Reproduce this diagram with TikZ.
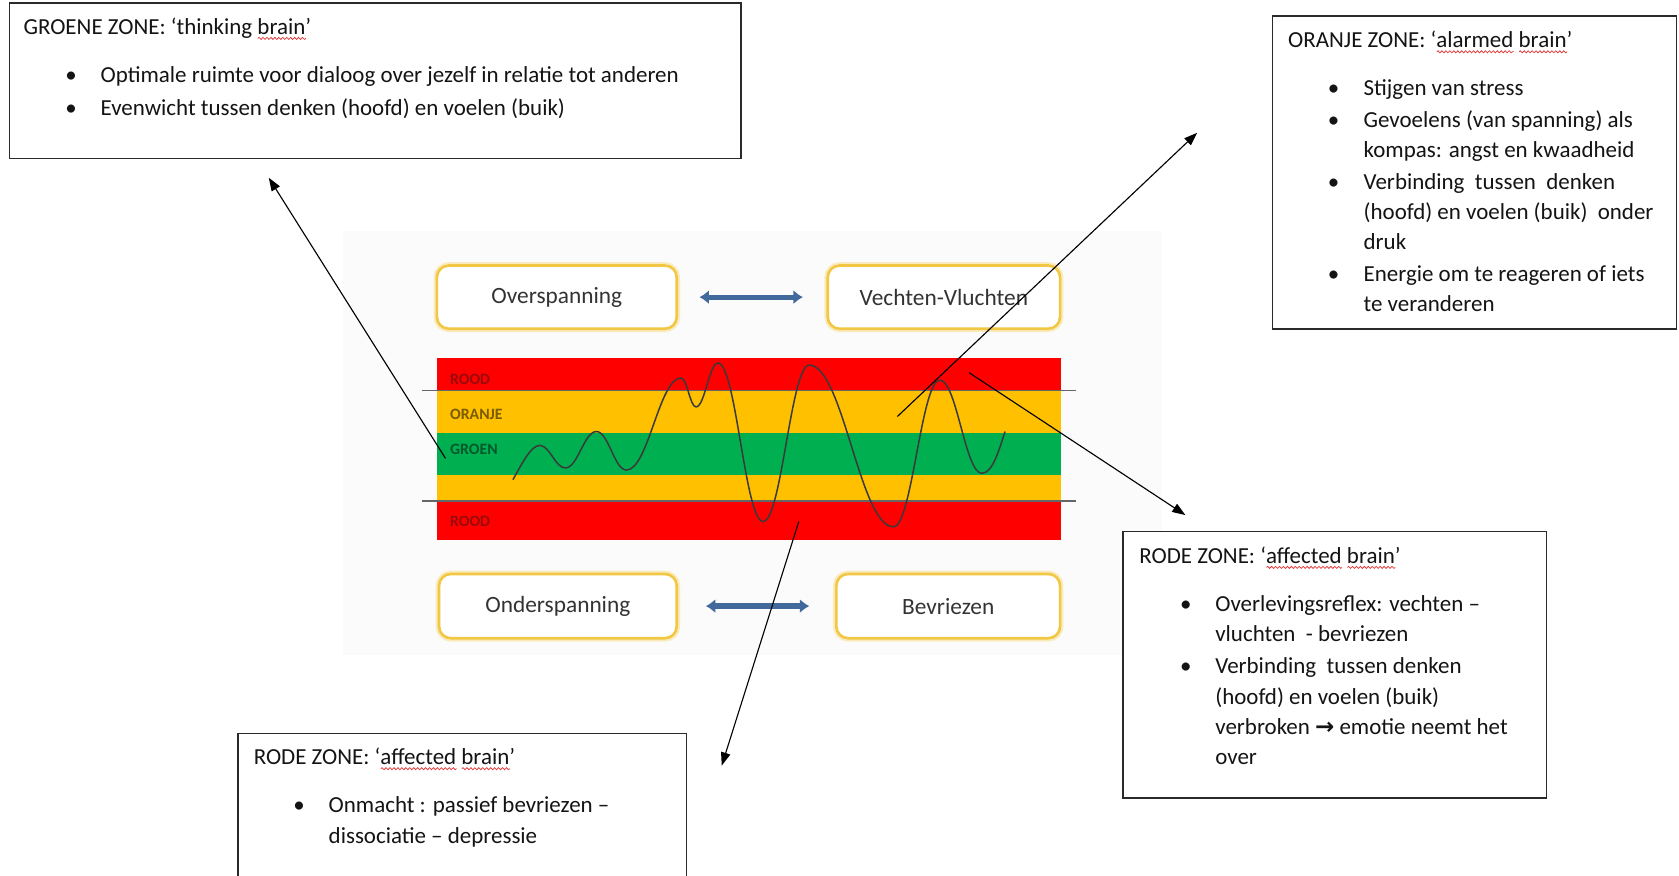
\documentclass[tikz,border=0pt]{standalone}
\usepackage{fontspec}
\setmainfont{Carlito}
\newfontfamily\dejavu{DejaVu Sans}
\usetikzlibrary{arrows.meta,fit,decorations.pathmorphing}
\definecolor{squigred}{HTML}{E23A3A}
\definecolor{bandred}{HTML}{FF0000}
\definecolor{bandorange}{HTML}{FFC000}
\definecolor{bandgreen}{HTML}{00B050}
\definecolor{lblred}{HTML}{9A0A0A}
\definecolor{lblorange}{HTML}{7A5C00}
\definecolor{lblgreen}{HTML}{00582C}
\definecolor{ygold}{HTML}{F2C744}
\definecolor{ytext}{HTML}{333333}
\definecolor{steel}{HTML}{41699B}
\definecolor{wavegrey}{HTML}{3A3A3A}
\definecolor{textblack}{HTML}{141414}
\definecolor{boxline}{HTML}{2A2A2A}
\definecolor{bgfaint}{HTML}{FBFBFB}
\newdimen\squigwd
\newcommand\squig[1]{\setbox0\hbox{#1}\squigwd=\wd0\rlap{\tikz[baseline=0pt]\draw[draw=squigred, line width=0.4pt, decorate, decoration={snake, amplitude=0.55pt, segment length=2.1pt}] (0pt,-2.2pt) -- (\squigwd,-2.2pt);}\box0\relax}
\begin{document}
\begin{tikzpicture}[x=0.02cm,y=-0.02cm,
  zonebox/.style={draw=boxline, line width=0.85pt, fill=white, inner sep=0pt},
  txt/.style={anchor=base west, inner sep=0pt, outer sep=0pt, text=textblack, font=\fontsize{12.2}{15}\selectfont},
  ybox/.style={rounded corners=0.22cm, draw=ygold, line width=1.4pt,
     preaction={draw=ygold!35, line width=3.6pt}, fill=white, text=ytext,
     font=\fontsize{12.4}{15}\selectfont, inner sep=0pt},
  bandlbl/.style={anchor=west, inner sep=0pt, font=\fontsize{8.4}{9}\selectfont\bfseries},
  blink/.style={draw=steel, line width=2.8pt, {Latex[length=5pt,width=7.5pt]}-{Latex[length=5pt,width=7.5pt]}},
  pointer/.style={draw=black, line width=0.6pt, -{Triangle[length=7pt,width=5pt]}},
  wave/.style={draw=wavegrey, line width=0.8pt},
  rule/.style={draw=black!60, line width=0.7pt}]
\useasboundingbox (0,0) rectangle (1568,818);
\fill[white] (0,0) rectangle (1568,818);
% faint background of the central picture
\fill[bgfaint] (320,216) rectangle (1085,612);

% state boxes
\node[ybox, minimum width=4.48cm, minimum height=1.18cm] (ov) at (520,277.5) {Overspanning};
\node[ybox, minimum width=4.34cm, minimum height=1.18cm] (vv) at (881.5,277.5) {Vechten-Vluchten};
\node[ybox, minimum width=4.44cm, minimum height=1.2cm] (on) at (521,566) {Onderspanning};
\node[ybox, minimum width=4.18cm, minimum height=1.2cm] (bv) at (885.5,566) {Bevriezen};
\draw[blink, shorten <=0.4cm, shorten >=0.44cm] (ov.east) -- (vv.west);
\draw[blink, shorten <=0.52cm, shorten >=0.48cm] (on.east) -- (bv.west);

% bands
\fill[bandred] (408,334.6) rectangle (991,364.8);
\fill[bandorange] (408,364.8) rectangle (991,404.7);
\fill[bandgreen] (408,404.7) rectangle (991,443.6);
\fill[bandorange] (408,443.6) rectangle (991,467.9);
\fill[bandred] (408,467.9) rectangle (991,504.3);
\draw[rule] (394,364.8) -- (1005,364.8);
\draw[rule] (394,467.9) -- (1005,467.9);
\node[bandlbl, text=lblred] (lr1) at (420,354.3) {ROOD};
\node[bandlbl, text=lblorange] (lo) at (420,386.6) {ORANJE};
\node[bandlbl, text=lblgreen] (lg) at (420,419.6) {GROEN};
\node[bandlbl, text=lblred] (lr2) at (420,486.6) {ROOD};

% wave
\draw[wave] (479,448) .. controls (488,432) and (496,416) .. (504,416)
  .. controls (513.6,416) and (518.4,437) .. (528,437)
  .. controls (539.6,437) and (545.4,403) .. (557,403)
  .. controls (568.2,403) and (573.8,439) .. (585,439)
  .. controls (605.4,439) and (615.6,353) .. (636,353)
  .. controls (641.6,353) and (644.4,380) .. (650,380)
  .. controls (658.2,380) and (662.3,339) .. (670.5,339)
  .. controls (687.3,339) and (695.8,487) .. (712.6,487)
  .. controls (729.9,487) and (738.5,341) .. (755.8,341)
  .. controls (787.2,341) and (803,492) .. (834.4,492)
  .. controls (851.7,492) and (860.4,355) .. (877.7,355)
  .. controls (893.4,355) and (901.3,442) .. (917,442)
  .. controls (927,442) and (933,420) .. (938.6,403);

% zone boxes
\node[zonebox, fit={(9,3) (692,148)}] (gbox) {};
\node[txt] (gt) at (22,32) {GROENE ZONE: ‘thinking \squig{brain}’};
\node[txt] (gb1) at (61,77) {•};
\node[txt] (gl1) at (94,77) {Optimale ruimte voor dialoog over jezelf in relatie tot anderen};
\node[txt] (gb2) at (61,108) {•};
\node[txt] (gl2) at (94,108) {Evenwicht tussen denken (hoofd) en voelen (buik)};

\node[zonebox, fit={(1188.5,15) (1565.8,307.5)}] (obox) {};
\node[txt] (ot) at (1203,44.5) {ORANJE ZONE: ‘\squig{alarmed} \squig{brain}’};
\node[txt] (ob1) at (1240,89) {•};
\node[txt] (ol1) at (1273.5,89) {Stijgen van stress};
\node[txt] (ob2) at (1240,119.5) {•};
\node[txt] (ol2) at (1273.5,119.5) {Gevoelens (van spanning) als};
\node[txt] (ol3) at (1273.5,147.5) {kompas: angst en kwaadheid};
\node[txt] (ob3) at (1240,177.2) {•};
\node[txt] (ol4) at (1273.5,177.2) {Verbinding \ tussen \ denken};
\node[txt] (ol5) at (1273.5,205.2) {(hoofd) en voelen (buik) \ onder};
\node[txt] (ol6) at (1273.5,233.2) {druk};
\node[txt] (ob4) at (1240,262.8) {•};
\node[txt] (ol7) at (1273.5,262.8) {Energie om te reageren of iets};
\node[txt] (ol8) at (1273.5,290.8) {te veranderen};

\node[zonebox, fit={(1049,496.5) (1444.4,745)}] (rbox) {};
\node[txt] (rt) at (1064,526) {RODE ZONE: ‘\squig{affected} \squig{brain}’};
\node[txt] (rb1) at (1102,571) {•};
\node[txt] (rl1) at (1135,571) {Overlevingsreflex: vechten –};
\node[txt] (rl2) at (1135,599) {vluchten \ - bevriezen};
\node[txt] (rb2) at (1102,629) {•};
\node[txt] (rl3) at (1135,629) {Verbinding \ tussen denken};
\node[txt] (rl4) at (1135,658) {(hoofd) en voelen (buik)};
\node[txt] (rl5) at (1135,686) {verbroken {\dejavu\bfseries →} emotie neemt het};
\node[txt] (rl6) at (1135,714) {over};

\node[zonebox, fit={(222,685) (641,840)}] (bbox) {};
\node[txt] (bt) at (237,714) {RODE ZONE: ‘\squig{affected} \squig{brain}’};
\node[txt] (bb1) at (274,759) {•};
\node[txt] (bl1) at (307,759) {Onmacht : passief bevriezen –};
\node[txt] (bl2) at (307,788) {dissociatie – depressie};

% pointers
\coordinate (p1s) at (416,428);
\coordinate (p1e) at (251,166);
\coordinate (p2s) at (838,389);
\coordinate (p2e) at (1118,124);
\coordinate (p3s) at (905,348);
\coordinate (p3e) at (1107,481);
\coordinate (p4s) at (746,487);
\coordinate (p4e) at (674,715);
\draw[pointer] (p1s) -- (p1e);
\draw[pointer] (p2s) -- (p2e);
\draw[pointer] (p3s) -- (p3e);
\draw[pointer] (p4s) -- (p4e);
\end{tikzpicture}
\end{document}
